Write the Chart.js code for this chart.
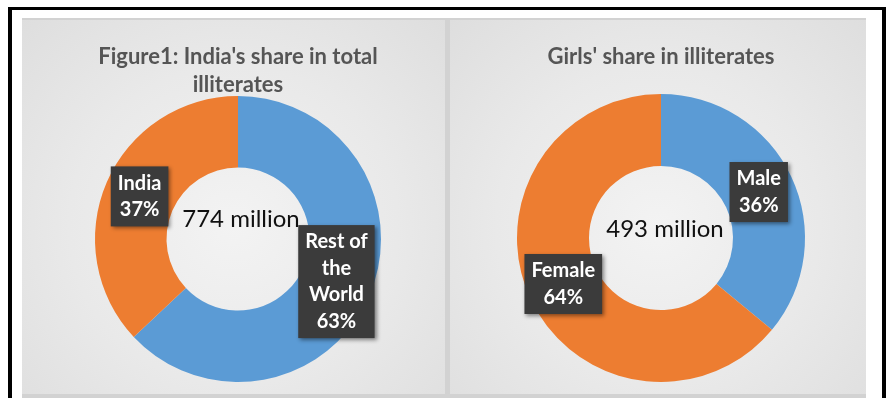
<!DOCTYPE html>
<html>
<head>
<meta charset="utf-8">
<script src="https://cdn.jsdelivr.net/npm/chart.js@4.4.0/dist/chart.umd.min.js"></script>
<style>
    html, body { margin: 0; padding: 0; background: #fff; }
    #frame {
        position: absolute; left: 8px; top: 7px; width: 878px; height: 391px;
        border-left: 4px solid #000; border-right: 4px solid #000; border-top: 3px solid #000;
        box-sizing: border-box;
    }
    #back {
        position: absolute; left: 22px; top: 18px; width: 844px; height: 380px;
        background: #d2d2d2;
    }
    .panel {
        position: absolute; top: 20px; height: 374px;
        background: radial-gradient(ellipse at 50% 55%, #f3f3f3 0%, #e9e9e9 55%, #dedede 100%);
    }
    #p1 { left: 22px; width: 423px; }
    #p2 { left: 450px; width: 416px; }
</style>
</head>
<body>
<div id="frame"></div>
<div id="back"></div>
<div class="panel" id="p1"><canvas id="chart1"></canvas></div>
<div class="panel" id="p2"><canvas id="chart2"></canvas></div>
<script>
// data
const title1 = ["Figure1: India's share in total", 'illiterates'];
const categories1 = [['Rest of', 'the', 'World'], ['India']];
const values1 = [63, 37];
const total1 = '774 million';

const title2 = "Girls' share in illiterates";
const categories2 = [['Male'], ['Female']];
const values2 = [36, 64];
const total2 = '493 million';

const blue = '#5b9bd5';
const orange = '#ed7d31';

// label boxes sitting on each slice + text in the hole
const boxLabels = {
    id: 'boxLabels',
    afterDatasetsDraw(chart, args, opts) {
        const ctx = chart.ctx;
        const meta = chart.getDatasetMeta(0);
        const cats = chart.data.labels;
        const vals = chart.data.datasets[0].data;
        ctx.save();
        ctx.font = 'bold 20px Lato';
        ctx.textAlign = 'center';
        ctx.textBaseline = 'middle';
        meta.data.forEach((arc, i) => {
            const p = arc.tooltipPosition();
            const lines = cats[i].concat([vals[i] + '%']);
            const lh = 26.5;
            let w = 0;
            lines.forEach(l => { w = Math.max(w, ctx.measureText(l).width); });
            w += 14;
            const h = lines.length * lh + 7;
            ctx.save();
            ctx.shadowColor = 'rgba(0,0,0,0.45)';
            ctx.shadowBlur = 4;
            ctx.shadowOffsetX = 2;
            ctx.shadowOffsetY = 2;
            ctx.fillStyle = '#3b3b3b';
            ctx.fillRect(p.x - w / 2, p.y - h / 2, w, h);
            ctx.restore();
            ctx.fillStyle = '#ffffff';
            lines.forEach((l, j) => {
                ctx.fillText(l, p.x, p.y - h / 2 + 3.5 + lh * (j + 0.5));
            });
        });
        // total in the middle
        const c = meta.data[0];
        ctx.font = '24px Lato';
        ctx.fillStyle = '#111111';
        ctx.fillText(opts.text, c.x + opts.dx, c.y + opts.dy);
        ctx.restore();
    }
};

function makeChart(id, cats, vals, title, total, pad, titlePad, dx, dy) {
    return new Chart(document.getElementById(id), {
        type: 'doughnut',
        data: {
            labels: cats,
            datasets: [{
                data: vals,
                backgroundColor: [blue, orange],
                borderWidth: 0,
                hoverOffset: 0
            }]
        },
        options: {
            responsive: true,
            maintainAspectRatio: false,
            animation: false,
            cutout: '50%',
            layout: { padding: pad },
            plugins: {
                legend: { display: false },
                tooltip: { enabled: false },
                title: {
                    display: true,
                    text: title,
                    color: '#555555',
                    font: { family: 'Lato', size: 22, weight: 'bold', lineHeight: 28 / 22 },
                    padding: titlePad
                },
                boxLabels: { text: total, dx: dx, dy: dy }
            }
        },
        plugins: [boxLabels]
    });
}

makeChart('chart1', categories1, values1, title1, total1,
    { left: 9, right: 0, top: 0, bottom: 12 }, { top: 23, bottom: -3 }, 3, -20);
makeChart('chart2', categories2, values2, title2, total2,
    { left: 6, right: 0, top: 0, bottom: 12 }, { top: 23, bottom: 23 }, 4, -9);
</script>
</body>
</html>
